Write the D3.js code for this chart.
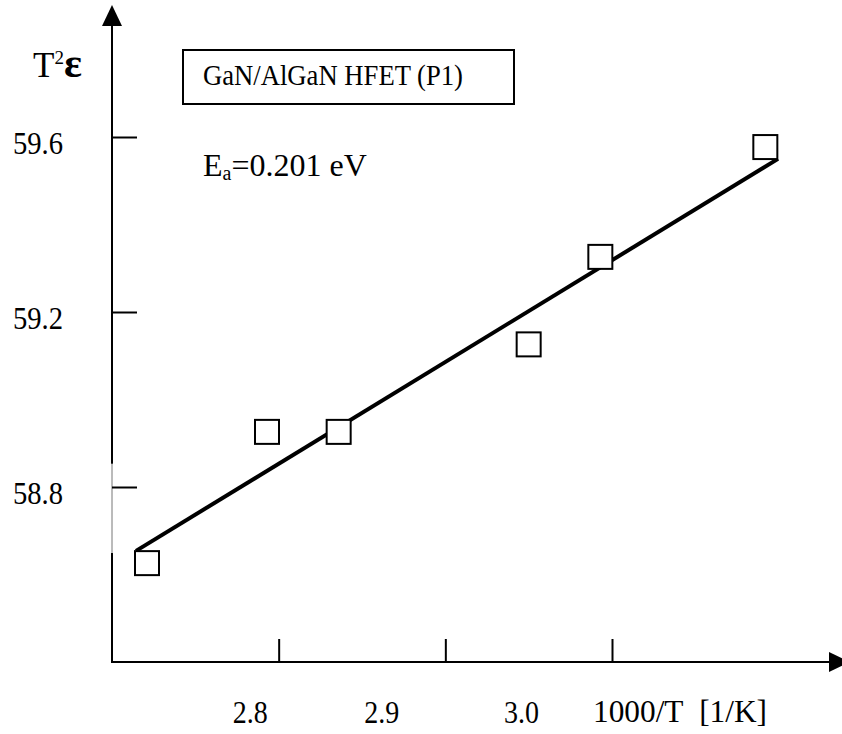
<!DOCTYPE html>
<html>
<head>
<meta charset="utf-8">
<script src="https://cdn.jsdelivr.net/npm/d3@7"></script>
<style>
  html, body { margin: 0; padding: 0; background: #fff; }
  svg { display: block; }
  svg text { font-family: "Liberation Serif", "Tinos", "Times New Roman", "DejaVu Serif", "Noto Serif", serif !important; fill: #000; }
</style>
</head>
<body>
<svg id="chart" width="842" height="734"></svg>
<script>
// ---- data ----
const xValues = [2.721, 2.793, 2.836, 2.950, 2.993, 3.092];
const yValues = [58.626, 58.926, 58.926, 59.126, 59.326, 59.577];
const fitX = [2.7144, 3.0996];
const fitY = [58.654, 59.550];
const xTicks = [2.8, 2.9, 3.0];
const xTickLabels = ["2.8", "2.9", "3.0"];
const yTicks = [58.8, 59.2, 59.6];
const yTickLabels = ["58.8", "59.2", "59.6"];
const legendText = "GaN/AlGaN HFET (P1)";
const xTitle = "1000/T\u00a0\u00a0[1/K]";

// ---- layout ----
const svg = d3.select("#chart");
const x = d3.scaleLinear().domain([2.7, 3.0]).range([112, 612]);
const y = d3.scaleLinear().domain([58.4, 59.6]).range([662, 137]);
const xLabelShift = [-29, -64, -91];

const x0 = x(2.7), y0 = y(58.4);
const yTopBase = y(59.854), yTopApex = y(59.902);
const xEndBase = x(3.1302), xEndApex = x(3.1428);
const gapTop = y(58.853), gapBot = y(58.649);

svg.append("line").attr("x1", x0).attr("x2", x0).attr("y1", y0).attr("y2", gapBot)
  .attr("stroke", "#000").attr("stroke-width", 2);
svg.append("line").attr("x1", x0).attr("x2", x0).attr("y1", gapBot).attr("y2", gapTop)
  .attr("stroke", "#777").attr("stroke-width", 1);
svg.append("line").attr("x1", x0).attr("x2", x0).attr("y1", gapTop).attr("y2", yTopBase)
  .attr("stroke", "#000").attr("stroke-width", 2);
svg.append("path")
  .attr("d", `M${x0 - 10},${yTopBase} L${x0 + 10},${yTopBase} L${x0},${yTopApex} Z`)
  .attr("fill", "#000");

svg.append("line").attr("x1", x0 - 1).attr("x2", xEndBase).attr("y1", y0).attr("y2", y0)
  .attr("stroke", "#000").attr("stroke-width", 2);
svg.append("path")
  .attr("d", `M${xEndBase},${y0 - 10} L${xEndBase},${y0 + 10} L${xEndApex},${y0} Z`)
  .attr("fill", "#000");

const xAxis = d3.axisBottom(x).tickValues(xTicks)
  .tickSizeInner(-23).tickSizeOuter(0).tickPadding(39)
  .tickFormat((d, i) => xTickLabels[i]);
const gx = svg.append("g").attr("transform", `translate(0,${y0})`).call(xAxis);
gx.attr("font-family", null).attr("font-size", null);
gx.select(".domain").remove();
gx.selectAll(".tick line").attr("stroke", "#000").attr("stroke-width", 2);
gx.selectAll(".tick text")
  .attr("font-size", 31).attr("fill", "#000")
  .attr("textLength", 35).attr("lengthAdjust", "spacingAndGlyphs")
  .attr("x", (d, i) => xLabelShift[i]);

const yAxis = d3.axisLeft(y).tickValues(yTicks)
  .tickSizeInner(-25).tickSizeOuter(0).tickPadding(49)
  .tickFormat((d, i) => yTickLabels[i]);
const gy = svg.append("g").attr("transform", `translate(${x0},0)`).call(yAxis);
gy.attr("font-family", null).attr("font-size", null);
gy.select(".domain").remove();
gy.selectAll(".tick line").attr("stroke", "#000").attr("stroke-width", 2);
gy.selectAll(".tick text")
  .attr("font-size", 31).attr("fill", "#000").attr("dy", "0.52em")
  .attr("textLength", 50).attr("lengthAdjust", "spacingAndGlyphs");

svg.append("path")
  .datum(fitX.map((v, i) => [v, fitY[i]]))
  .attr("d", d3.line().x(d => x(d[0])).y(d => y(d[1])))
  .attr("stroke", "#000").attr("stroke-width", 4).attr("fill", "none");

const s = 24;
svg.selectAll("rect.pt")
  .data(xValues.map((v, i) => [v, yValues[i]]))
  .join("rect").attr("class", "pt")
  .attr("x", d => x(d[0]) - s / 2).attr("y", d => y(d[1]) - s / 2)
  .attr("width", s).attr("height", s)
  .attr("fill", "#fff").attr("stroke", "#000").attr("stroke-width", 2);

svg.append("text").attr("x", 593).attr("y", 722).attr("font-size", 31)
  .attr("textLength", 174).attr("lengthAdjust", "spacingAndGlyphs")
  .text(xTitle);

const yt = svg.append("text").attr("x", 33).attr("y", 77).attr("font-size", 35);
yt.append("tspan").text("T");
yt.append("tspan").attr("font-size", 19).attr("dy", -13).text("2");
yt.append("tspan").attr("font-size", 42).attr("dy", 13).attr("font-weight", "bold").text("\u03b5");

svg.append("rect").attr("x", 183).attr("y", 50).attr("width", 331).attr("height", 54)
  .attr("fill", "#fff").attr("stroke", "#000").attr("stroke-width", 2);
svg.append("text").attr("x", 203).attr("y", 85).attr("font-size", 29)
  .attr("textLength", 260).attr("lengthAdjust", "spacingAndGlyphs")
  .text(legendText);

const ea = svg.append("text").attr("x", 203).attr("y", 176).attr("font-size", 32);
ea.append("tspan").text("E");
ea.append("tspan").attr("font-size", 20).attr("dy", 4).text("a");
ea.append("tspan").attr("dy", -4).text("=0.201 eV");
</script>
</body>
</html>
